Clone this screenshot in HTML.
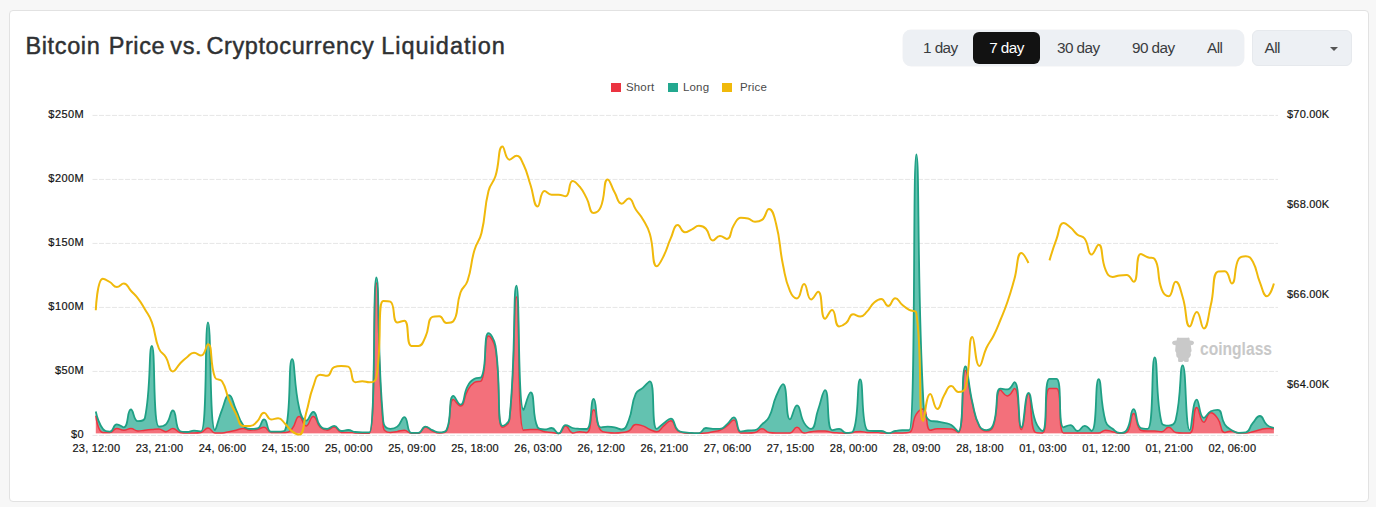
<!DOCTYPE html>
<html>
<head>
<meta charset="utf-8">
<style>
html,body{margin:0;padding:0;}
body{width:1376px;height:507px;background:#f7f7f7;position:relative;overflow:hidden;font-family:"Liberation Sans",sans-serif;}
.card{position:absolute;left:9px;top:10px;width:1360px;height:492px;box-sizing:border-box;background:#fff;border:1px solid #e2e2e2;border-radius:4px;}
.title{position:absolute;left:25.3px;top:30.5px;font-size:23.5px;letter-spacing:0.62px;color:#2f3133;white-space:nowrap;line-height:30px;-webkit-text-stroke:0.45px #2f3133;}
.grp{position:absolute;left:903px;top:29.5px;width:340.5px;height:36.8px;box-sizing:border-box;background:#edf0f4;border-radius:8px;box-shadow:0 0 0 0.5px #f1f2f4;}
.btn{position:absolute;top:0;height:36.8px;line-height:36.8px;font-size:15.3px;letter-spacing:-0.55px;color:#3a3c40;white-space:nowrap;}
.btn.on{background:#121212;color:#fff;border-radius:6px;top:2.5px;height:31.5px;line-height:31.5px;text-align:center;}
.sel{position:absolute;left:1252px;top:30px;width:100px;height:35.5px;box-sizing:border-box;background:#edf0f4;border-radius:6px;border:1px solid #e6e9ed;}
.sel span{position:absolute;left:11.5px;top:-1px;line-height:35px;font-size:15.3px;letter-spacing:-0.55px;color:#3a3c40;}
.caret{position:absolute;left:1329.5px;top:46.5px;width:0;height:0;border-left:4px solid transparent;border-right:4px solid transparent;border-top:4px solid #555;}
.lg{position:absolute;top:82.7px;width:10px;height:9.6px;}
.lt{position:absolute;top:79.2px;font-size:11.5px;letter-spacing:0.15px;line-height:16px;color:#4a4a4a;white-space:nowrap;}
.yl{position:absolute;font-size:11px;letter-spacing:0.4px;line-height:14px;color:#141414;-webkit-text-stroke:0.2px #141414;white-space:nowrap;}
.yl.l{right:1292px;text-align:right;}
.yl.r{left:1287px;letter-spacing:0.2px;}
.xl{position:absolute;top:441px;font-size:11px;letter-spacing:0.2px;line-height:14px;color:#141414;-webkit-text-stroke:0.2px #141414;white-space:nowrap;transform:translateX(-50%);}
.chart{position:absolute;left:0;top:0;}
</style>
</head>
<body>
<div class="card"></div>
<div class="title"><span style="position:relative;left:0.2px">Bitcoin</span> <span style="position:relative;left:1.3px">Price</span> <span style="position:relative;left:-0.8px">vs.</span> <span style="position:relative;left:-3.8px">Cryptocurrency</span> <span style="position:relative;left:-4.2px;letter-spacing:1.0px">Liquidation</span></div>
<div class="grp">
  <div class="btn" style="left:20px">1 day</div>
  <div class="btn on" style="left:70px;width:67px">7 day</div>
  <div class="btn" style="left:154px">30 day</div>
  <div class="btn" style="left:229px">90 day</div>
  <div class="btn" style="left:304px">All</div>
</div>
<div class="sel"><span>All</span></div>
<div class="caret"></div>

<div class="lg" style="left:611px;background:#eb3441"></div><div class="lt" style="left:626px">Short</div>
<div class="lg" style="left:668px;background:#23a88f"></div><div class="lt" style="left:683px">Long</div>
<div class="lg" style="left:722px;background:#f0b90b"></div><div class="lt" style="left:740px">Price</div>

<div class="yl l" style="top:107px">$250M</div>
<div class="yl l" style="top:171px">$200M</div>
<div class="yl l" style="top:235px">$150M</div>
<div class="yl l" style="top:299px">$100M</div>
<div class="yl l" style="top:363px">$50M</div>
<div class="yl l" style="top:427px">$0</div>

<div class="yl r" style="top:107px">$70.00K</div>
<div class="yl r" style="top:197px">$68.00K</div>
<div class="yl r" style="top:287px">$66.00K</div>
<div class="yl r" style="top:377px">$64.00K</div>

<div class="xl" style="left:96.4px">23, 12:00</div>
<div class="xl" style="left:159.5px">23, 21:00</div>
<div class="xl" style="left:222.6px">24, 06:00</div>
<div class="xl" style="left:285.7px">24, 15:00</div>
<div class="xl" style="left:348.9px">25, 00:00</div>
<div class="xl" style="left:412.0px">25, 09:00</div>
<div class="xl" style="left:475.1px">25, 18:00</div>
<div class="xl" style="left:538.2px">26, 03:00</div>
<div class="xl" style="left:601.3px">26, 12:00</div>
<div class="xl" style="left:664.4px">26, 21:00</div>
<div class="xl" style="left:727.5px">27, 06:00</div>
<div class="xl" style="left:790.6px">27, 15:00</div>
<div class="xl" style="left:853.7px">28, 00:00</div>
<div class="xl" style="left:916.8px">28, 09:00</div>
<div class="xl" style="left:980.0px">28, 18:00</div>
<div class="xl" style="left:1043.1px">01, 03:00</div>
<div class="xl" style="left:1106.2px">01, 12:00</div>
<div class="xl" style="left:1169.3px">01, 21:00</div>
<div class="xl" style="left:1232.4px">02, 06:00</div>

<svg style="position:absolute;left:1168px;top:334px" width="30" height="30" viewBox="0 0 30 30"><path d="M9 4.2Q9.5 3 11 3.8L19.5 3.8Q21 3 21.5 4.2L21.8 6.5Q25.6 6.3 26 8.6Q26 11 22.8 11.3L23.6 16.8Q23.5 18 22.6 18.5Q23.6 21 22 23Q21.2 23.9 20.7 24L20.7 27Q20.5 28 19.5 28L17 28Q16 28 15.6 26.6Q15.2 28 14 28L11.2 28Q10.1 28 10.1 27L10.1 24Q8.2 23.4 8.2 21Q8.3 19.2 8.1 18.4Q7.1 17.6 7.2 16.4L7.6 11.3Q4 11 4.1 8.6Q4.4 6.4 8.6 6.5Z" fill="#c9c9c9"/></svg>
<svg style="position:absolute;left:0;top:0" width="1376" height="507"><text x="1200" y="355.2" font-family="Liberation Sans" font-weight="bold" font-size="19.2" fill="#c8c8c8" textLength="72" lengthAdjust="spacingAndGlyphs">coinglass</text></svg>

<svg class="chart" width="1376" height="507" viewBox="0 0 1376 507">
<defs><clipPath id="pc"><rect x="80" y="100" width="1210" height="333.6"/></clipPath></defs>
<line x1="92.5" x2="1278" y1="115.4" y2="115.4" stroke="#e6e6e6" stroke-width="1" stroke-dasharray="5 1.5"/>
<line x1="92.5" x2="1278" y1="179.4" y2="179.4" stroke="#e6e6e6" stroke-width="1" stroke-dasharray="5 1.5"/>
<line x1="92.5" x2="1278" y1="243.4" y2="243.4" stroke="#e6e6e6" stroke-width="1" stroke-dasharray="5 1.5"/>
<line x1="92.5" x2="1278" y1="307.4" y2="307.4" stroke="#e6e6e6" stroke-width="1" stroke-dasharray="5 1.5"/>
<line x1="92.5" x2="1278" y1="371.4" y2="371.4" stroke="#e6e6e6" stroke-width="1" stroke-dasharray="5 1.5"/>
<line x1="92.5" x2="1278" y1="435.4" y2="435.4" stroke="#e6e6e6" stroke-width="1" stroke-dasharray="5 1.5"/>
<g clip-path="url(#pc)">
<path d="M95.8 415.6C95.8 415.6 97.8 432.4 102.8 432.4C104.8 432.4 106.6 432.4 109.8 432.4C113.6 432.4 113.1 428.5 116.8 428.5C120.2 428.5 120.3 430.2 123.8 430.2C127.4 430.2 127.4 428.5 130.9 428.5C134.4 428.5 134.3 431 137.9 431C141.3 431 141.4 430.6 144.9 430.2C148.4 429.8 148.4 429.8 151.9 429.5C155.4 429.2 155.5 429 158.9 429C162.5 429 162.5 431.7 165.9 431.7C169.5 431.7 169.5 428.5 172.9 428.5C176.5 428.5 176.2 431.8 179.9 432.4C183.2 432.9 183.5 432.9 187 432.9C190.5 432.9 190.5 432.9 194 432.9C197.5 432.9 197.8 432.9 201 432.4C204.8 431.8 204.6 428 208 428C211.6 428 211.2 432.9 215 432.9C218.2 432.9 218.5 432.9 222 432.9C225.6 432.9 225.5 432.4 229 431.7C232.6 431 232.6 431 236.1 430.2C239.6 429.4 239.6 428.5 243.1 428.5C246.6 428.5 246.5 430.2 250.1 430.2C253.5 430.2 253.7 430.2 257.1 429.5C260.7 428.8 260.9 427.3 264.1 427.3C267.9 427.3 267.2 432.4 271.1 432.4C274.2 432.4 274.6 432.4 278.1 432.4C281.6 432.4 281.8 432.4 285.1 432.4C288.8 432.4 289.7 431.6 292.1 428.8C296.7 423.6 295.3 416.4 299.2 416.4C302.3 416.4 302.7 425.9 306.2 425.9C309.7 425.9 309.8 416.4 313.2 416.4C316.9 416.4 315.8 422.9 320.2 427.3C322.8 429.8 323.7 430.2 327.2 430.2C330.7 430.2 331 427 334.2 427C338 427 337.3 432.4 341.2 432.4C344.3 432.4 344.7 432.4 348.2 432.4C351.8 432.4 351.8 432.7 355.3 432.9C358.8 433.1 358.8 433.2 362.3 433.2C365.8 433.2 369 433.2 369.3 433.2C376 433.2 372.7 283 376.3 283C379.7 283 376.7 356.8 383.3 427.3C383.7 431.5 386.5 432.4 390.3 432.4C393.5 432.4 393.8 431.9 397.3 431.4C400.9 430.8 401 430.2 404.4 430.2C408 430.2 407.7 433.2 411.4 433.2C414.7 433.2 415.4 433.2 418.4 433.2C422.4 433.2 421.6 427 425.4 427C428.6 427 428.7 429.4 432.4 431C435.7 432.4 435.9 432.9 439.4 432.9C442.9 432.9 445.1 432.9 446.4 431C452.1 422.6 448 399.6 453.4 399.6C455 399.6 457.9 406.1 460.5 406.1C464.9 406.1 463.2 398 467.5 390.8C470.2 386.1 470.3 385.1 474.5 382.4C477.3 380.6 480.5 382.4 481.5 380.6C487.5 369.4 483.2 336.1 488.5 336.1C490.2 336.1 494.4 341.8 495.5 349C501.4 387.4 496.3 427.3 502.5 427.3C503.3 427.3 509 424.9 509.5 420C516 359.8 513.2 297 516.5 297C520.2 297 516.9 430.2 523.6 430.2C523.9 430.2 527.1 429.5 530.6 429.5C534.1 429.5 534.2 429.5 537.6 429.5C541.2 429.5 541 431 544.6 431.7C548 432.4 548.1 432 551.6 432.4C555.1 432.8 555.8 433.4 558.6 433.4C562.8 433.4 562.1 425.9 565.6 425.9C569.1 425.9 568.6 432.9 572.6 432.9C575.6 432.9 576.1 431.7 579.7 431.7C583.2 431.7 585.1 432.4 586.7 432.4C592.1 432.4 590 409.8 593.7 409.8C597 409.8 595.5 423.7 600.7 430.2C602.5 432.4 604.1 431.9 607.7 432.4C611.1 432.9 611.2 432.9 614.7 432.9C618.2 432.9 618.3 432.9 621.7 432.4C625.3 431.9 625.8 432.4 628.8 431C632.8 429.1 631.7 424.4 635.8 424.4C638.8 424.4 639.4 424.7 642.8 425.9C646.4 427.2 646.2 428 649.8 429.5C653.2 430.9 653.7 431.7 656.8 431.7C660.7 431.7 660.2 428.6 663.8 425.8C667.2 423.1 667.9 420.7 670.8 420.7C675 420.7 673.4 427.7 677.8 431C680.4 432.9 681.3 432.6 684.9 432.9C688.3 433.2 688.4 433.2 691.9 433.2C695.4 433.2 695.4 433.2 698.9 433.2C702.4 433.2 702.4 433.2 705.9 432.9C709.4 432.6 709.4 432.4 712.9 431.7C716.4 431 716.6 431.6 719.9 430.2C723.7 428.7 723.6 428.3 726.9 425.9C730.6 423.2 731.2 420 733.9 420C738.3 420 736.2 432.9 740.9 432.9C743.2 432.9 744.5 432.9 748 432.9C751.5 432.9 751.7 432.9 755 432.4C758.7 431.8 758.5 428.8 762 428.8C765.5 428.8 765.3 431.8 769 432.4C772.3 432.9 772.5 432.9 776 432.9C779.5 432.9 779.5 432.9 783 432.9C786.5 432.9 787 432.9 790 432.9C794 432.9 793.5 427.3 797 427.3C800.6 427.3 800.2 432.9 804.1 432.9C807.2 432.9 807.6 432.2 811.1 431.7C814.6 431.2 814.6 431 818.1 431C821.6 431 821.6 431 825.1 431C828.6 431 828.6 431.9 832.1 432.4C835.6 432.9 835.6 432.7 839.1 432.9C842.6 433.1 842.6 433.2 846.1 433.2C849.7 433.2 849.7 432.8 853.1 432.4C856.7 431.9 856.7 431.4 860.2 431.4C863.7 431.4 863.7 432.4 867.2 432.4C870.7 432.4 870.7 432.4 874.2 432.4C877.7 432.4 877.7 432.7 881.2 432.9C884.7 433.1 884.7 433.2 888.2 433.2C891.7 433.2 891.7 432.9 895.2 432.9C898.7 432.9 898.7 432.9 902.2 432.9C905.7 432.9 907.4 432.9 909.2 432.4C914.4 431 911.4 422.3 916.3 414.2C918.4 410.6 921.3 409 923.3 409C928.3 409 925 430.2 930.3 430.2C932 430.2 933.8 428.8 937.3 428.8C940.8 428.8 940.8 428.8 944.3 428.8C947.8 428.8 948 428.8 951.3 429C955 429.2 957.6 432.4 958.3 432.4C964.6 432.4 960.8 370.5 965.4 370.5C967.8 370.5 968.2 387.4 972.4 404C975.2 415.5 974.2 416.6 979.4 426.6C981.2 430.1 983 431 986.4 431C990 431 992.1 429.8 993.4 425.9C999.1 409.4 994.8 390.1 1000.4 390.1C1001.8 390.1 1004.1 395.9 1007.4 395.9C1011.1 395.9 1013.1 388.6 1014.4 388.6C1020.1 388.6 1017.7 429.5 1021.4 429.5C1024.7 429.5 1025.1 393.7 1028.5 393.7C1032.1 393.7 1029.5 429.6 1035.5 432.4C1036.5 432.9 1041.5 432.9 1042.5 432.9C1048.5 432.9 1043.4 388.6 1049.5 388.6C1050.4 388.6 1055.6 388.6 1056.5 388.6C1062.6 388.6 1057.5 432.9 1063.5 432.9C1064.5 432.9 1067 432.9 1070.5 432.9C1074 432.9 1074 432.9 1077.5 432.9C1081.1 432.9 1081.1 432.9 1084.6 432.9C1088.1 432.9 1088.1 432.9 1091.6 432.9C1095.1 432.9 1095.2 432.9 1098.6 432.9C1102.2 432.9 1102 430.2 1105.6 430.2C1109 430.2 1109.1 430.9 1112.6 431.7C1116.1 432.4 1116.1 433.2 1119.6 433.2C1123.1 433.2 1124.8 433.2 1126.6 432.4C1131.8 430.1 1130 413.4 1133.7 413.4C1137 413.4 1135.6 428.1 1140.7 430.2C1142.6 431 1144.2 431 1147.7 431C1151.2 431 1151.2 431 1154.7 431C1158.2 431 1158.5 431.7 1161.7 431.7C1165.5 431.7 1165.3 427.3 1168.7 427.3C1172.3 427.3 1171.9 431.8 1175.7 432.4C1178.9 432.9 1179.2 432.9 1182.7 432.9C1186.2 432.9 1188.3 432.9 1189.8 432.9C1195.3 432.9 1192.4 407.6 1196.8 407.6C1199.4 407.6 1199.7 422.2 1203.8 422.2C1206.7 422.2 1206.8 412.7 1210.8 412.7C1213.9 412.7 1215.2 414.9 1217.8 418.6C1222.2 424.8 1220 432.4 1224.8 432.4C1227 432.4 1228.4 431 1231.8 431C1235.4 431 1235.3 433 1238.8 433C1242.3 433 1242.4 433 1245.8 433C1249.4 433 1249.4 432.6 1252.9 431.8C1256.4 431 1256.3 430.7 1259.9 429.8C1263.3 429 1263.3 428.4 1266.9 428.4C1270.4 428.4 1273.9 428.8 1273.9 428.8L1273.9 433.8L95.8 433.8Z" fill="#f3707b"/>
</g>
<path d="M95.8 411.5C95.8 411.5 97.8 421.7 102.8 428.8C104.8 431.7 106.8 431.7 109.8 431.7C113.8 431.7 112.8 424.4 116.8 424.4C119.8 424.4 121.9 427.3 123.8 427.3C128.9 427.3 126.8 409.5 130.9 409.5C133.8 409.5 133.4 421.2 137.9 421.2C140.4 421.2 144.2 421.2 144.9 418C151.2 388 148.6 346 151.9 346C155.6 346 152.5 426.6 158.9 426.6C159.5 426.6 163.7 426.6 165.9 424.4C170.7 419.7 170 410.5 172.9 410.5C177 410.5 174.7 427.9 179.9 431C181.7 432 183.5 432 187 432C190.5 432 190.4 430.7 194 430.7C197.5 430.7 200.6 431.4 201 431.4C207.6 431.4 204.5 322.4 208 322.4C211.5 322.4 209.2 430.2 215 430.2C216.2 430.2 218 419.8 222 409.8C225 402.3 225.5 395.2 229 395.2C232.5 395.2 232.6 402.5 236.1 409.8C239.6 417.4 238.3 418.6 243.1 425.1C245.3 428.1 246.4 428.8 250.1 428.8C253.4 428.8 254.4 428.8 257.1 428.5C261.5 428 261 419.3 264.1 419.3C268 419.3 266.4 431.7 271.1 431.7C273.4 431.7 274.7 431.7 278.1 431.7C281.7 431.7 284.5 431.7 285.1 430.2C291.5 415.3 288 359.2 292.1 359.2C295 359.2 293.7 384.4 299.2 408.3C300.7 415.2 302.2 420.7 306.2 420.7C309.3 420.7 310.3 412 313.2 412C317.3 412 315.5 420.3 320.2 425.9C322.5 428.7 323.7 428.8 327.2 428.8C330.7 428.8 331 425.9 334.2 425.9C338 425.9 337.4 431 341.2 431C344.4 431 344.8 430 348.2 430C351.8 430 351.7 431.6 355.3 432C358.7 432.4 358.8 432.4 362.3 432.4C365.8 432.4 369 432.4 369.3 432.4C376 432.4 372.7 277.5 376.3 277.5C379.7 277.5 376.8 350.8 383.3 421.5C383.8 426.5 386.3 428.8 390.3 428.8C393.3 428.8 394.6 428.8 397.3 426.6C401.7 423.1 401.5 417.1 404.4 417.1C408.5 417.1 406.4 432.9 411.4 432.9C413.4 432.9 415.4 432.9 418.4 432.9C422.4 432.9 421.6 426.6 425.4 426.6C428.6 426.6 428.8 428.7 432.4 430.2C435.8 431.6 435.9 432.4 439.4 432.4C442.9 432.4 445.2 432.4 446.4 430.2C452.2 419.7 448.1 395.9 453.4 395.9C455.1 395.9 457.9 404.7 460.5 404.7C464.9 404.7 462.9 394.9 467.5 386.4C469.9 381.9 470.4 381.4 474.5 378.8C477.4 377 480.5 378.8 481.5 377C487.5 365.9 483.2 333.1 488.5 333.1C490.2 333.1 494.4 338.8 495.5 346C501.4 385.2 496.3 425.9 502.5 425.9C503.3 425.9 509 423.6 509.5 418.6C516.1 353.4 512.9 285.6 516.5 285.6C519.9 285.6 517.5 409.8 523.6 409.8C524.5 409.8 528.2 392.3 530.6 392.3C535.2 392.3 531.8 416.6 537.6 427.3C538.8 429.5 541.1 429.5 544.6 429.5C548.1 429.5 548.5 428 551.6 428C555.5 428 555.5 433.4 558.6 433.4C562.5 433.4 561.5 425.1 565.6 425.1C568.5 425.1 569 427.1 572.6 428C576 428.8 576.1 428.6 579.7 428.8C583.2 429 585.4 429 586.7 429C592.4 429 590.1 398.8 593.7 398.8C597.1 398.8 595 427.3 600.7 427.3C602.1 427.3 604.2 426.6 607.7 426.6C611.2 426.6 611.3 426.6 614.7 427.3C618.3 428 619 429.5 621.7 429.5C626.1 429.5 626.6 425.4 628.8 420C633.6 407.5 630.5 405.7 635.8 393.7C637.5 389.7 639.4 390.9 642.8 387.9C646.4 384.7 648.6 381.3 649.8 381.3C655.6 381.3 650.9 428.8 656.8 428.8C657.9 428.8 660.2 425.9 663.8 423.3C667.2 420.8 668.1 418.6 670.8 418.6C675.1 418.6 673.3 426.1 677.8 430.2C680.3 432.4 681.3 431.9 684.9 432.4C688.3 432.9 688.4 432.7 691.9 432.9C695.4 433.1 695.7 433.2 698.9 433.2C702.8 433.2 702 428 705.9 428C709 428 709.4 428.8 712.9 428.8C716.4 428.8 716.7 428.8 719.9 428.8C723.7 428.8 723.7 427 726.9 424.4C730.7 421.3 731.2 417.4 733.9 417.4C738.3 417.4 736.1 431.7 740.9 431.7C743.1 431.7 744.4 430.8 748 430.5C751.4 430.2 751.9 430.5 755 430.2C758.9 429.8 758.7 427.5 762 424.4C765.7 421 766.8 421.5 769 417.1C773.8 407.7 771.8 406.6 776 396.7C778.8 390.1 781 384.2 783 384.2C788 384.2 785.2 419.3 790 419.3C792.2 419.3 793.9 405.4 797 405.4C800.9 405.4 799.3 415 804.1 422.9C806.4 426.7 808.9 428.8 811.1 428.8C815.9 428.8 814.6 419.3 818.1 409.8C821.6 400 822.7 390.1 825.1 390.1C829.7 390.1 826.1 430.2 832.1 430.2C833.2 430.2 835.8 428.8 839.1 428.8C842.9 428.8 842.4 432.9 846.1 432.9C849.4 432.9 852.3 432.9 853.1 431.3C859.3 419.7 856.6 379.4 860.2 379.4C863.6 379.4 861 424.4 867.2 430.2C868 431 870.7 431 874.2 431C877.7 431 877.8 431 881.2 431C884.8 431 884.7 433.2 888.2 433.2C891.7 433.2 891.6 431.8 895.2 431C898.7 430.3 898.7 430.2 902.2 430.2C905.7 430.2 909.1 430.2 909.2 430.2C916.1 430.2 912.6 154.5 916.3 154.5C919.6 154.5 916.8 277.8 923.3 400C923.8 410.9 925 418.2 930.3 420.7C932 421.5 933.8 421 937.3 421.5C940.8 422.1 940.9 422 944.3 422.9C947.9 423.8 948.3 423.2 951.3 425.1C955.3 427.6 957.4 431.7 958.3 431.7C964.5 431.7 960.9 366.5 965.4 366.5C967.9 366.5 968.2 384.7 972.4 402.5C975.2 414.4 974.1 415.5 979.4 425.9C981.1 429.4 983.1 430.2 986.4 430.2C990.1 430.2 992 428.6 993.4 424.4C999 407.8 994.5 388.6 1000.4 388.6C1001.5 388.6 1004.5 389.4 1007.4 389.4C1011.6 389.4 1013.2 382.1 1014.4 382.1C1020.2 382.1 1017.5 427.3 1021.4 427.3C1024.5 427.3 1024.6 393 1028.5 393C1031.7 393 1030.5 408 1035.5 421.5C1037.5 427 1041.2 431 1042.5 431C1048.2 431 1043.3 378.8 1049.5 378.8C1050.3 378.8 1055.6 378.8 1056.5 378.8C1062.6 378.8 1057.4 427.3 1063.5 427.3C1064.4 427.3 1067.4 425.1 1070.5 425.1C1074.4 425.1 1073.9 431 1077.5 431C1081 431 1081.1 425.9 1084.6 425.9C1088.1 425.9 1090.6 431 1091.6 431C1097.6 431 1094.7 379.1 1098.6 379.1C1101.7 379.1 1099.9 401.4 1105.6 421.5C1106.9 426.2 1108.7 425.6 1112.6 428.8C1115.7 431.3 1116 432.9 1119.6 432.9C1123 432.9 1124.9 432.9 1126.6 430.2C1131.9 422.2 1130 409.1 1133.7 409.1C1137 409.1 1135.5 425.7 1140.7 428C1142.5 428.8 1147 428.8 1147.7 428.8C1154.1 428.8 1151 357.4 1154.7 357.4C1158 357.4 1155.4 399.2 1161.7 422.9C1162.4 425.6 1165.5 425.6 1168.7 425.6C1172.5 425.6 1174.7 424.2 1175.7 420C1181.8 394.1 1179.5 365.3 1182.7 365.3C1186.5 365.3 1185 430.2 1189.8 430.2C1192 430.2 1192.4 399.6 1196.8 399.6C1199.4 399.6 1199.1 417.8 1203.8 417.8C1206.1 417.8 1206.8 413.3 1210.8 411.3C1213.8 409.8 1215.6 409.8 1217.8 409.8C1222.7 409.8 1220.3 417.9 1224.8 424.4C1227.3 428.1 1228 427.9 1231.8 430.2C1235 432.1 1235.2 432.8 1238.8 432.8C1242.2 432.8 1243.2 432.8 1245.8 432.4C1250.2 431.7 1249 427.4 1252.9 422.9C1256 419.2 1256.6 416 1259.9 416C1263.6 416 1262.7 421.4 1266.9 424.9C1269.7 427.3 1273.9 427.8 1273.9 427.8L1273.9 428.8C1273.9 428.8 1270.4 428.4 1266.9 428.4C1263.3 428.4 1263.3 429 1259.9 429.8C1256.3 430.7 1256.4 431 1252.9 431.8C1249.4 432.6 1249.4 433 1245.8 433C1242.4 433 1242.3 433 1238.8 433C1235.3 433 1235.4 431 1231.8 431C1228.4 431 1227 432.4 1224.8 432.4C1220 432.4 1222.2 424.8 1217.8 418.6C1215.2 414.9 1213.9 412.7 1210.8 412.7C1206.8 412.7 1206.7 422.2 1203.8 422.2C1199.7 422.2 1199.4 407.6 1196.8 407.6C1192.4 407.6 1195.3 432.9 1189.8 432.9C1188.3 432.9 1186.2 432.9 1182.7 432.9C1179.2 432.9 1178.9 432.9 1175.7 432.4C1171.9 431.8 1172.3 427.3 1168.7 427.3C1165.3 427.3 1165.5 431.7 1161.7 431.7C1158.5 431.7 1158.2 431 1154.7 431C1151.2 431 1151.2 431 1147.7 431C1144.2 431 1142.6 431 1140.7 430.2C1135.6 428.1 1137 413.4 1133.7 413.4C1130 413.4 1131.8 430.1 1126.6 432.4C1124.8 433.2 1123.1 433.2 1119.6 433.2C1116.1 433.2 1116.1 432.4 1112.6 431.7C1109.1 430.9 1109 430.2 1105.6 430.2C1102 430.2 1102.2 432.9 1098.6 432.9C1095.2 432.9 1095.1 432.9 1091.6 432.9C1088.1 432.9 1088.1 432.9 1084.6 432.9C1081.1 432.9 1081.1 432.9 1077.5 432.9C1074 432.9 1074 432.9 1070.5 432.9C1067 432.9 1064.5 432.9 1063.5 432.9C1057.5 432.9 1062.6 388.6 1056.5 388.6C1055.6 388.6 1050.4 388.6 1049.5 388.6C1043.4 388.6 1048.5 432.9 1042.5 432.9C1041.5 432.9 1036.5 432.9 1035.5 432.4C1029.5 429.6 1032.1 393.7 1028.5 393.7C1025.1 393.7 1024.7 429.5 1021.4 429.5C1017.7 429.5 1020.1 388.6 1014.4 388.6C1013.1 388.6 1011.1 395.9 1007.4 395.9C1004.1 395.9 1001.8 390.1 1000.4 390.1C994.8 390.1 999.1 409.4 993.4 425.9C992.1 429.8 990 431 986.4 431C983 431 981.2 430.1 979.4 426.6C974.2 416.6 975.2 415.5 972.4 404C968.2 387.4 967.8 370.5 965.4 370.5C960.8 370.5 964.6 432.4 958.3 432.4C957.6 432.4 955 429.2 951.3 429C948 428.8 947.8 428.8 944.3 428.8C940.8 428.8 940.8 428.8 937.3 428.8C933.8 428.8 932 430.2 930.3 430.2C925 430.2 928.3 409 923.3 409C921.3 409 918.4 410.6 916.3 414.2C911.4 422.3 914.4 431 909.2 432.4C907.4 432.9 905.7 432.9 902.2 432.9C898.7 432.9 898.7 432.9 895.2 432.9C891.7 432.9 891.7 433.2 888.2 433.2C884.7 433.2 884.7 433.1 881.2 432.9C877.7 432.7 877.7 432.4 874.2 432.4C870.7 432.4 870.7 432.4 867.2 432.4C863.7 432.4 863.7 431.4 860.2 431.4C856.7 431.4 856.7 431.9 853.1 432.4C849.7 432.8 849.7 433.2 846.1 433.2C842.6 433.2 842.6 433.1 839.1 432.9C835.6 432.7 835.6 432.9 832.1 432.4C828.6 431.9 828.6 431 825.1 431C821.6 431 821.6 431 818.1 431C814.6 431 814.6 431.2 811.1 431.7C807.6 432.2 807.2 432.9 804.1 432.9C800.2 432.9 800.6 427.3 797 427.3C793.5 427.3 794 432.9 790 432.9C787 432.9 786.5 432.9 783 432.9C779.5 432.9 779.5 432.9 776 432.9C772.5 432.9 772.3 432.9 769 432.4C765.3 431.8 765.5 428.8 762 428.8C758.5 428.8 758.7 431.8 755 432.4C751.7 432.9 751.5 432.9 748 432.9C744.5 432.9 743.2 432.9 740.9 432.9C736.2 432.9 738.3 420 733.9 420C731.2 420 730.6 423.2 726.9 425.9C723.6 428.3 723.7 428.7 719.9 430.2C716.6 431.6 716.4 431 712.9 431.7C709.4 432.4 709.4 432.6 705.9 432.9C702.4 433.2 702.4 433.2 698.9 433.2C695.4 433.2 695.4 433.2 691.9 433.2C688.4 433.2 688.3 433.2 684.9 432.9C681.3 432.6 680.4 432.9 677.8 431C673.4 427.7 675 420.7 670.8 420.7C667.9 420.7 667.2 423.1 663.8 425.8C660.2 428.6 660.7 431.7 656.8 431.7C653.7 431.7 653.2 430.9 649.8 429.5C646.2 428 646.4 427.2 642.8 425.9C639.4 424.7 638.8 424.4 635.8 424.4C631.7 424.4 632.8 429.1 628.8 431C625.8 432.4 625.3 431.9 621.7 432.4C618.3 432.9 618.2 432.9 614.7 432.9C611.2 432.9 611.1 432.9 607.7 432.4C604.1 431.9 602.5 432.4 600.7 430.2C595.5 423.7 597 409.8 593.7 409.8C590 409.8 592.1 432.4 586.7 432.4C585.1 432.4 583.2 431.7 579.7 431.7C576.1 431.7 575.6 432.9 572.6 432.9C568.6 432.9 569.1 425.9 565.6 425.9C562.1 425.9 562.8 433.4 558.6 433.4C555.8 433.4 555.1 432.8 551.6 432.4C548.1 432 548 432.4 544.6 431.7C541 431 541.2 429.5 537.6 429.5C534.2 429.5 534.1 429.5 530.6 429.5C527.1 429.5 523.9 430.2 523.6 430.2C516.9 430.2 520.2 297 516.5 297C513.2 297 516 359.8 509.5 420C509 424.9 503.3 427.3 502.5 427.3C496.3 427.3 501.4 387.4 495.5 349C494.4 341.8 490.2 336.1 488.5 336.1C483.2 336.1 487.5 369.4 481.5 380.6C480.5 382.4 477.3 380.6 474.5 382.4C470.3 385.1 470.2 386.1 467.5 390.8C463.2 398 464.9 406.1 460.5 406.1C457.9 406.1 455 399.6 453.4 399.6C448 399.6 452.1 422.6 446.4 431C445.1 432.9 442.9 432.9 439.4 432.9C435.9 432.9 435.7 432.4 432.4 431C428.7 429.4 428.6 427 425.4 427C421.6 427 422.4 433.2 418.4 433.2C415.4 433.2 414.7 433.2 411.4 433.2C407.7 433.2 408 430.2 404.4 430.2C401 430.2 400.9 430.8 397.3 431.4C393.8 431.9 393.5 432.4 390.3 432.4C386.5 432.4 383.7 431.5 383.3 427.3C376.7 356.8 379.7 283 376.3 283C372.7 283 376 433.2 369.3 433.2C369 433.2 365.8 433.2 362.3 433.2C358.8 433.2 358.8 433.1 355.3 432.9C351.8 432.7 351.8 432.4 348.2 432.4C344.7 432.4 344.3 432.4 341.2 432.4C337.3 432.4 338 427 334.2 427C331 427 330.7 430.2 327.2 430.2C323.7 430.2 322.8 429.8 320.2 427.3C315.8 422.9 316.9 416.4 313.2 416.4C309.8 416.4 309.7 425.9 306.2 425.9C302.7 425.9 302.3 416.4 299.2 416.4C295.3 416.4 296.7 423.6 292.1 428.8C289.7 431.6 288.8 432.4 285.1 432.4C281.8 432.4 281.6 432.4 278.1 432.4C274.6 432.4 274.2 432.4 271.1 432.4C267.2 432.4 267.9 427.3 264.1 427.3C260.9 427.3 260.7 428.8 257.1 429.5C253.7 430.2 253.5 430.2 250.1 430.2C246.5 430.2 246.6 428.5 243.1 428.5C239.6 428.5 239.6 429.4 236.1 430.2C232.6 431 232.6 431 229 431.7C225.5 432.4 225.6 432.9 222 432.9C218.5 432.9 218.2 432.9 215 432.9C211.2 432.9 211.6 428 208 428C204.6 428 204.8 431.8 201 432.4C197.8 432.9 197.5 432.9 194 432.9C190.5 432.9 190.5 432.9 187 432.9C183.5 432.9 183.2 432.9 179.9 432.4C176.2 431.8 176.5 428.5 172.9 428.5C169.5 428.5 169.5 431.7 165.9 431.7C162.5 431.7 162.5 429 158.9 429C155.5 429 155.4 429.2 151.9 429.5C148.4 429.8 148.4 429.8 144.9 430.2C141.4 430.6 141.3 431 137.9 431C134.3 431 134.4 428.5 130.9 428.5C127.4 428.5 127.4 430.2 123.8 430.2C120.3 430.2 120.2 428.5 116.8 428.5C113.1 428.5 113.6 432.4 109.8 432.4C106.6 432.4 104.8 432.4 102.8 432.4C97.8 432.4 95.8 415.6 95.8 415.6Z" fill="#63c2b0"/>
<path d="M95.8 415.6C95.8 415.6 97.8 432.4 102.8 432.4C104.8 432.4 106.6 432.4 109.8 432.4C113.6 432.4 113.1 428.5 116.8 428.5C120.2 428.5 120.3 430.2 123.8 430.2C127.4 430.2 127.4 428.5 130.9 428.5C134.4 428.5 134.3 431 137.9 431C141.3 431 141.4 430.6 144.9 430.2C148.4 429.8 148.4 429.8 151.9 429.5C155.4 429.2 155.5 429 158.9 429C162.5 429 162.5 431.7 165.9 431.7C169.5 431.7 169.5 428.5 172.9 428.5C176.5 428.5 176.2 431.8 179.9 432.4C183.2 432.9 183.5 432.9 187 432.9C190.5 432.9 190.5 432.9 194 432.9C197.5 432.9 197.8 432.9 201 432.4C204.8 431.8 204.6 428 208 428C211.6 428 211.2 432.9 215 432.9C218.2 432.9 218.5 432.9 222 432.9C225.6 432.9 225.5 432.4 229 431.7C232.6 431 232.6 431 236.1 430.2C239.6 429.4 239.6 428.5 243.1 428.5C246.6 428.5 246.5 430.2 250.1 430.2C253.5 430.2 253.7 430.2 257.1 429.5C260.7 428.8 260.9 427.3 264.1 427.3C267.9 427.3 267.2 432.4 271.1 432.4C274.2 432.4 274.6 432.4 278.1 432.4C281.6 432.4 281.8 432.4 285.1 432.4C288.8 432.4 289.7 431.6 292.1 428.8C296.7 423.6 295.3 416.4 299.2 416.4C302.3 416.4 302.7 425.9 306.2 425.9C309.7 425.9 309.8 416.4 313.2 416.4C316.9 416.4 315.8 422.9 320.2 427.3C322.8 429.8 323.7 430.2 327.2 430.2C330.7 430.2 331 427 334.2 427C338 427 337.3 432.4 341.2 432.4C344.3 432.4 344.7 432.4 348.2 432.4C351.8 432.4 351.8 432.7 355.3 432.9C358.8 433.1 358.8 433.2 362.3 433.2C365.8 433.2 369 433.2 369.3 433.2C376 433.2 372.7 283 376.3 283C379.7 283 376.7 356.8 383.3 427.3C383.7 431.5 386.5 432.4 390.3 432.4C393.5 432.4 393.8 431.9 397.3 431.4C400.9 430.8 401 430.2 404.4 430.2C408 430.2 407.7 433.2 411.4 433.2C414.7 433.2 415.4 433.2 418.4 433.2C422.4 433.2 421.6 427 425.4 427C428.6 427 428.7 429.4 432.4 431C435.7 432.4 435.9 432.9 439.4 432.9C442.9 432.9 445.1 432.9 446.4 431C452.1 422.6 448 399.6 453.4 399.6C455 399.6 457.9 406.1 460.5 406.1C464.9 406.1 463.2 398 467.5 390.8C470.2 386.1 470.3 385.1 474.5 382.4C477.3 380.6 480.5 382.4 481.5 380.6C487.5 369.4 483.2 336.1 488.5 336.1C490.2 336.1 494.4 341.8 495.5 349C501.4 387.4 496.3 427.3 502.5 427.3C503.3 427.3 509 424.9 509.5 420C516 359.8 513.2 297 516.5 297C520.2 297 516.9 430.2 523.6 430.2C523.9 430.2 527.1 429.5 530.6 429.5C534.1 429.5 534.2 429.5 537.6 429.5C541.2 429.5 541 431 544.6 431.7C548 432.4 548.1 432 551.6 432.4C555.1 432.8 555.8 433.4 558.6 433.4C562.8 433.4 562.1 425.9 565.6 425.9C569.1 425.9 568.6 432.9 572.6 432.9C575.6 432.9 576.1 431.7 579.7 431.7C583.2 431.7 585.1 432.4 586.7 432.4C592.1 432.4 590 409.8 593.7 409.8C597 409.8 595.5 423.7 600.7 430.2C602.5 432.4 604.1 431.9 607.7 432.4C611.1 432.9 611.2 432.9 614.7 432.9C618.2 432.9 618.3 432.9 621.7 432.4C625.3 431.9 625.8 432.4 628.8 431C632.8 429.1 631.7 424.4 635.8 424.4C638.8 424.4 639.4 424.7 642.8 425.9C646.4 427.2 646.2 428 649.8 429.5C653.2 430.9 653.7 431.7 656.8 431.7C660.7 431.7 660.2 428.6 663.8 425.8C667.2 423.1 667.9 420.7 670.8 420.7C675 420.7 673.4 427.7 677.8 431C680.4 432.9 681.3 432.6 684.9 432.9C688.3 433.2 688.4 433.2 691.9 433.2C695.4 433.2 695.4 433.2 698.9 433.2C702.4 433.2 702.4 433.2 705.9 432.9C709.4 432.6 709.4 432.4 712.9 431.7C716.4 431 716.6 431.6 719.9 430.2C723.7 428.7 723.6 428.3 726.9 425.9C730.6 423.2 731.2 420 733.9 420C738.3 420 736.2 432.9 740.9 432.9C743.2 432.9 744.5 432.9 748 432.9C751.5 432.9 751.7 432.9 755 432.4C758.7 431.8 758.5 428.8 762 428.8C765.5 428.8 765.3 431.8 769 432.4C772.3 432.9 772.5 432.9 776 432.9C779.5 432.9 779.5 432.9 783 432.9C786.5 432.9 787 432.9 790 432.9C794 432.9 793.5 427.3 797 427.3C800.6 427.3 800.2 432.9 804.1 432.9C807.2 432.9 807.6 432.2 811.1 431.7C814.6 431.2 814.6 431 818.1 431C821.6 431 821.6 431 825.1 431C828.6 431 828.6 431.9 832.1 432.4C835.6 432.9 835.6 432.7 839.1 432.9C842.6 433.1 842.6 433.2 846.1 433.2C849.7 433.2 849.7 432.8 853.1 432.4C856.7 431.9 856.7 431.4 860.2 431.4C863.7 431.4 863.7 432.4 867.2 432.4C870.7 432.4 870.7 432.4 874.2 432.4C877.7 432.4 877.7 432.7 881.2 432.9C884.7 433.1 884.7 433.2 888.2 433.2C891.7 433.2 891.7 432.9 895.2 432.9C898.7 432.9 898.7 432.9 902.2 432.9C905.7 432.9 907.4 432.9 909.2 432.4C914.4 431 911.4 422.3 916.3 414.2C918.4 410.6 921.3 409 923.3 409C928.3 409 925 430.2 930.3 430.2C932 430.2 933.8 428.8 937.3 428.8C940.8 428.8 940.8 428.8 944.3 428.8C947.8 428.8 948 428.8 951.3 429C955 429.2 957.6 432.4 958.3 432.4C964.6 432.4 960.8 370.5 965.4 370.5C967.8 370.5 968.2 387.4 972.4 404C975.2 415.5 974.2 416.6 979.4 426.6C981.2 430.1 983 431 986.4 431C990 431 992.1 429.8 993.4 425.9C999.1 409.4 994.8 390.1 1000.4 390.1C1001.8 390.1 1004.1 395.9 1007.4 395.9C1011.1 395.9 1013.1 388.6 1014.4 388.6C1020.1 388.6 1017.7 429.5 1021.4 429.5C1024.7 429.5 1025.1 393.7 1028.5 393.7C1032.1 393.7 1029.5 429.6 1035.5 432.4C1036.5 432.9 1041.5 432.9 1042.5 432.9C1048.5 432.9 1043.4 388.6 1049.5 388.6C1050.4 388.6 1055.6 388.6 1056.5 388.6C1062.6 388.6 1057.5 432.9 1063.5 432.9C1064.5 432.9 1067 432.9 1070.5 432.9C1074 432.9 1074 432.9 1077.5 432.9C1081.1 432.9 1081.1 432.9 1084.6 432.9C1088.1 432.9 1088.1 432.9 1091.6 432.9C1095.1 432.9 1095.2 432.9 1098.6 432.9C1102.2 432.9 1102 430.2 1105.6 430.2C1109 430.2 1109.1 430.9 1112.6 431.7C1116.1 432.4 1116.1 433.2 1119.6 433.2C1123.1 433.2 1124.8 433.2 1126.6 432.4C1131.8 430.1 1130 413.4 1133.7 413.4C1137 413.4 1135.6 428.1 1140.7 430.2C1142.6 431 1144.2 431 1147.7 431C1151.2 431 1151.2 431 1154.7 431C1158.2 431 1158.5 431.7 1161.7 431.7C1165.5 431.7 1165.3 427.3 1168.7 427.3C1172.3 427.3 1171.9 431.8 1175.7 432.4C1178.9 432.9 1179.2 432.9 1182.7 432.9C1186.2 432.9 1188.3 432.9 1189.8 432.9C1195.3 432.9 1192.4 407.6 1196.8 407.6C1199.4 407.6 1199.7 422.2 1203.8 422.2C1206.7 422.2 1206.8 412.7 1210.8 412.7C1213.9 412.7 1215.2 414.9 1217.8 418.6C1222.2 424.8 1220 432.4 1224.8 432.4C1227 432.4 1228.4 431 1231.8 431C1235.4 431 1235.3 433 1238.8 433C1242.3 433 1242.4 433 1245.8 433C1249.4 433 1249.4 432.6 1252.9 431.8C1256.4 431 1256.3 430.7 1259.9 429.8C1263.3 429 1263.3 428.4 1266.9 428.4C1270.4 428.4 1273.9 428.8 1273.9 428.8" fill="none" stroke="#eb3441" stroke-width="1.5" stroke-linejoin="round"/>
<path d="M95.8 411.5C95.8 411.5 97.8 421.7 102.8 428.8C104.8 431.7 106.8 431.7 109.8 431.7C113.8 431.7 112.8 424.4 116.8 424.4C119.8 424.4 121.9 427.3 123.8 427.3C128.9 427.3 126.8 409.5 130.9 409.5C133.8 409.5 133.4 421.2 137.9 421.2C140.4 421.2 144.2 421.2 144.9 418C151.2 388 148.6 346 151.9 346C155.6 346 152.5 426.6 158.9 426.6C159.5 426.6 163.7 426.6 165.9 424.4C170.7 419.7 170 410.5 172.9 410.5C177 410.5 174.7 427.9 179.9 431C181.7 432 183.5 432 187 432C190.5 432 190.4 430.7 194 430.7C197.5 430.7 200.6 431.4 201 431.4C207.6 431.4 204.5 322.4 208 322.4C211.5 322.4 209.2 430.2 215 430.2C216.2 430.2 218 419.8 222 409.8C225 402.3 225.5 395.2 229 395.2C232.5 395.2 232.6 402.5 236.1 409.8C239.6 417.4 238.3 418.6 243.1 425.1C245.3 428.1 246.4 428.8 250.1 428.8C253.4 428.8 254.4 428.8 257.1 428.5C261.5 428 261 419.3 264.1 419.3C268 419.3 266.4 431.7 271.1 431.7C273.4 431.7 274.7 431.7 278.1 431.7C281.7 431.7 284.5 431.7 285.1 430.2C291.5 415.3 288 359.2 292.1 359.2C295 359.2 293.7 384.4 299.2 408.3C300.7 415.2 302.2 420.7 306.2 420.7C309.3 420.7 310.3 412 313.2 412C317.3 412 315.5 420.3 320.2 425.9C322.5 428.7 323.7 428.8 327.2 428.8C330.7 428.8 331 425.9 334.2 425.9C338 425.9 337.4 431 341.2 431C344.4 431 344.8 430 348.2 430C351.8 430 351.7 431.6 355.3 432C358.7 432.4 358.8 432.4 362.3 432.4C365.8 432.4 369 432.4 369.3 432.4C376 432.4 372.7 277.5 376.3 277.5C379.7 277.5 376.8 350.8 383.3 421.5C383.8 426.5 386.3 428.8 390.3 428.8C393.3 428.8 394.6 428.8 397.3 426.6C401.7 423.1 401.5 417.1 404.4 417.1C408.5 417.1 406.4 432.9 411.4 432.9C413.4 432.9 415.4 432.9 418.4 432.9C422.4 432.9 421.6 426.6 425.4 426.6C428.6 426.6 428.8 428.7 432.4 430.2C435.8 431.6 435.9 432.4 439.4 432.4C442.9 432.4 445.2 432.4 446.4 430.2C452.2 419.7 448.1 395.9 453.4 395.9C455.1 395.9 457.9 404.7 460.5 404.7C464.9 404.7 462.9 394.9 467.5 386.4C469.9 381.9 470.4 381.4 474.5 378.8C477.4 377 480.5 378.8 481.5 377C487.5 365.9 483.2 333.1 488.5 333.1C490.2 333.1 494.4 338.8 495.5 346C501.4 385.2 496.3 425.9 502.5 425.9C503.3 425.9 509 423.6 509.5 418.6C516.1 353.4 512.9 285.6 516.5 285.6C519.9 285.6 517.5 409.8 523.6 409.8C524.5 409.8 528.2 392.3 530.6 392.3C535.2 392.3 531.8 416.6 537.6 427.3C538.8 429.5 541.1 429.5 544.6 429.5C548.1 429.5 548.5 428 551.6 428C555.5 428 555.5 433.4 558.6 433.4C562.5 433.4 561.5 425.1 565.6 425.1C568.5 425.1 569 427.1 572.6 428C576 428.8 576.1 428.6 579.7 428.8C583.2 429 585.4 429 586.7 429C592.4 429 590.1 398.8 593.7 398.8C597.1 398.8 595 427.3 600.7 427.3C602.1 427.3 604.2 426.6 607.7 426.6C611.2 426.6 611.3 426.6 614.7 427.3C618.3 428 619 429.5 621.7 429.5C626.1 429.5 626.6 425.4 628.8 420C633.6 407.5 630.5 405.7 635.8 393.7C637.5 389.7 639.4 390.9 642.8 387.9C646.4 384.7 648.6 381.3 649.8 381.3C655.6 381.3 650.9 428.8 656.8 428.8C657.9 428.8 660.2 425.9 663.8 423.3C667.2 420.8 668.1 418.6 670.8 418.6C675.1 418.6 673.3 426.1 677.8 430.2C680.3 432.4 681.3 431.9 684.9 432.4C688.3 432.9 688.4 432.7 691.9 432.9C695.4 433.1 695.7 433.2 698.9 433.2C702.8 433.2 702 428 705.9 428C709 428 709.4 428.8 712.9 428.8C716.4 428.8 716.7 428.8 719.9 428.8C723.7 428.8 723.7 427 726.9 424.4C730.7 421.3 731.2 417.4 733.9 417.4C738.3 417.4 736.1 431.7 740.9 431.7C743.1 431.7 744.4 430.8 748 430.5C751.4 430.2 751.9 430.5 755 430.2C758.9 429.8 758.7 427.5 762 424.4C765.7 421 766.8 421.5 769 417.1C773.8 407.7 771.8 406.6 776 396.7C778.8 390.1 781 384.2 783 384.2C788 384.2 785.2 419.3 790 419.3C792.2 419.3 793.9 405.4 797 405.4C800.9 405.4 799.3 415 804.1 422.9C806.4 426.7 808.9 428.8 811.1 428.8C815.9 428.8 814.6 419.3 818.1 409.8C821.6 400 822.7 390.1 825.1 390.1C829.7 390.1 826.1 430.2 832.1 430.2C833.2 430.2 835.8 428.8 839.1 428.8C842.9 428.8 842.4 432.9 846.1 432.9C849.4 432.9 852.3 432.9 853.1 431.3C859.3 419.7 856.6 379.4 860.2 379.4C863.6 379.4 861 424.4 867.2 430.2C868 431 870.7 431 874.2 431C877.7 431 877.8 431 881.2 431C884.8 431 884.7 433.2 888.2 433.2C891.7 433.2 891.6 431.8 895.2 431C898.7 430.3 898.7 430.2 902.2 430.2C905.7 430.2 909.1 430.2 909.2 430.2C916.1 430.2 912.6 154.5 916.3 154.5C919.6 154.5 916.8 277.8 923.3 400C923.8 410.9 925 418.2 930.3 420.7C932 421.5 933.8 421 937.3 421.5C940.8 422.1 940.9 422 944.3 422.9C947.9 423.8 948.3 423.2 951.3 425.1C955.3 427.6 957.4 431.7 958.3 431.7C964.5 431.7 960.9 366.5 965.4 366.5C967.9 366.5 968.2 384.7 972.4 402.5C975.2 414.4 974.1 415.5 979.4 425.9C981.1 429.4 983.1 430.2 986.4 430.2C990.1 430.2 992 428.6 993.4 424.4C999 407.8 994.5 388.6 1000.4 388.6C1001.5 388.6 1004.5 389.4 1007.4 389.4C1011.6 389.4 1013.2 382.1 1014.4 382.1C1020.2 382.1 1017.5 427.3 1021.4 427.3C1024.5 427.3 1024.6 393 1028.5 393C1031.7 393 1030.5 408 1035.5 421.5C1037.5 427 1041.2 431 1042.5 431C1048.2 431 1043.3 378.8 1049.5 378.8C1050.3 378.8 1055.6 378.8 1056.5 378.8C1062.6 378.8 1057.4 427.3 1063.5 427.3C1064.4 427.3 1067.4 425.1 1070.5 425.1C1074.4 425.1 1073.9 431 1077.5 431C1081 431 1081.1 425.9 1084.6 425.9C1088.1 425.9 1090.6 431 1091.6 431C1097.6 431 1094.7 379.1 1098.6 379.1C1101.7 379.1 1099.9 401.4 1105.6 421.5C1106.9 426.2 1108.7 425.6 1112.6 428.8C1115.7 431.3 1116 432.9 1119.6 432.9C1123 432.9 1124.9 432.9 1126.6 430.2C1131.9 422.2 1130 409.1 1133.7 409.1C1137 409.1 1135.5 425.7 1140.7 428C1142.5 428.8 1147 428.8 1147.7 428.8C1154.1 428.8 1151 357.4 1154.7 357.4C1158 357.4 1155.4 399.2 1161.7 422.9C1162.4 425.6 1165.5 425.6 1168.7 425.6C1172.5 425.6 1174.7 424.2 1175.7 420C1181.8 394.1 1179.5 365.3 1182.7 365.3C1186.5 365.3 1185 430.2 1189.8 430.2C1192 430.2 1192.4 399.6 1196.8 399.6C1199.4 399.6 1199.1 417.8 1203.8 417.8C1206.1 417.8 1206.8 413.3 1210.8 411.3C1213.8 409.8 1215.6 409.8 1217.8 409.8C1222.7 409.8 1220.3 417.9 1224.8 424.4C1227.3 428.1 1228 427.9 1231.8 430.2C1235 432.1 1235.2 432.8 1238.8 432.8C1242.2 432.8 1243.2 432.8 1245.8 432.4C1250.2 431.7 1249 427.4 1252.9 422.9C1256 419.2 1256.6 416 1259.9 416C1263.6 416 1262.7 421.4 1266.9 424.9C1269.7 427.3 1273.9 427.8 1273.9 427.8" fill="none" stroke="#1fa085" stroke-width="1.8" stroke-linejoin="round"/>
<path d="M95.8 310.3C95.8 310.3 97.2 278.7 102.8 278.7C104.2 278.7 106.5 280 109.8 282C113.5 284.2 113.2 287 116.8 287C120.2 287 120.8 283.5 123.8 283.5C127.8 283.5 127.4 287.1 130.9 290.7C134.4 294.5 134.8 294.2 137.9 298.3C141.8 303.4 141.6 303.6 144.9 309.2C148.6 315.6 149.4 315.3 151.9 322.3C156.4 335 153.9 336.1 158.9 348.5C161 353.6 163 352.5 165.9 357.2C170 363.9 168.7 371.4 172.9 371.4C175.7 371.4 176.3 367.4 179.9 363.7C183.3 360.3 183.2 360.1 187 357.2C190.2 354.7 190.3 352.8 194 352.8C197.3 352.8 198.5 355.6 201 355.6C205.5 355.6 206 344.2 208 344.2C213 344.2 209.3 362.5 215 377.5C216.3 381 220 378 222 381.2C227 389.2 225.1 390.7 229 399.8C232.1 407 232.3 407 236.1 413.9C239.3 420 238.4 425.9 243.1 425.9C245.4 425.9 246.8 425.9 250.1 425.9C253.9 425.9 254.1 424.4 257.1 421.6C261.1 417.8 260.3 412.8 264.1 412.8C267.3 412.8 267.1 419.4 271.1 419.4C274.1 419.4 275 418.3 278.1 418.3C282 418.3 281.9 420.7 285.1 423.7C288.9 427.2 288.1 428.3 292.1 431.4C295.1 433.7 297.4 434.6 299.2 434.6C304.4 434.6 303 423.8 306.2 412.8C310 399.8 308.6 399.3 313.2 386.7C315.6 380.2 315.6 374.7 320.2 374.7C322.6 374.7 324.5 375.8 327.2 375.8C331.5 375.8 329.9 368.8 334.2 367.1C336.9 366 337.7 366 341.2 366C344.7 366 346.2 366 348.2 366.6C353.2 368.1 350.3 382.3 355.3 382.3C357.3 382.3 358.8 381.2 362.3 381.2C365.8 381.2 366 382.3 369.3 382.3C373.1 382.3 375.6 381.9 376.3 378C382.6 341.3 376.9 301 383.3 301C383.9 301 388.6 301 390.3 301.7C395.6 303.9 392.1 322.4 397.3 322.4C399.1 322.4 402.8 320.7 404.4 320.7C409.8 320.7 405.8 345.9 411.4 345.9C412.8 345.9 415.7 345.9 418.4 345.9C422.7 345.9 423 342 425.4 337C430 327.5 427.1 319 432.4 316.9C434.1 316.2 436.5 316.2 439.4 316.2C443.5 316.2 442.4 322.9 446.4 322.9C449.4 322.9 452.1 322.9 453.4 321.1C459.1 313.8 455.6 306.3 460.5 292.5C462.7 286.2 465.4 287.3 467.5 281C472.4 266.1 470 265.2 474.5 250C477 241.2 479.4 241.9 481.5 233C486.4 212.4 483.5 211.5 488.5 191C490.5 183 493 183.9 495.5 176C500 161.7 497.8 146.6 502.5 146.6C504.8 146.6 505 159.7 509.5 159.7C512 159.7 513.7 155.8 516.5 155.8C520.7 155.8 521.1 159.7 523.6 164.8C528.2 174.5 527.1 175 530.6 185.3C534.1 195.8 533.6 206.4 537.6 206.4C540.6 206.4 539.8 191.1 544.6 191.1C546.8 191.1 547.9 194.7 551.6 194.7C554.9 194.7 555.2 194.7 558.6 194.7C562.2 194.7 563.5 196.2 565.6 196.2C570.6 196.2 568.1 180.9 572.6 180.9C575.1 180.9 576.9 183.2 579.7 186.7C583.9 191.9 583.5 192.4 586.7 198.4C590.5 205.5 589.2 213 593.7 213C596.2 213 599 211.2 600.7 207.2C606 194.4 603.1 179.4 607.7 179.4C610.1 179.4 611 186.1 614.7 192.6C618 198.3 617.5 203.7 621.7 203.7C624.5 203.7 625.9 198.4 628.8 198.4C633 198.4 632.1 204.1 635.8 209.5C639.1 214.5 639.8 214 642.8 219.2C646.8 226.2 647.5 226.1 649.8 233.8C654.5 249.6 651.7 266.3 656.8 266.3C658.7 266.3 661 261.4 663.8 255.7C668 247.3 666.9 246.8 670.8 238.2C673.9 231.4 673.7 225 677.8 225C680.7 225 680.8 232.3 684.9 232.3C687.9 232.3 688.4 231 691.9 229.4C695.4 227.7 695.3 225.8 698.9 225.8C702.3 225.8 703.4 226.1 705.9 228.7C710.4 233.4 708.5 240.4 712.9 240.4C715.5 240.4 716.3 236 719.9 236C723.3 236 724.6 238.9 726.9 238.9C731.6 238.9 729.7 231.4 733.9 225C736.7 220.8 736.8 217.7 740.9 217.7C743.8 217.7 744.6 217.7 748 218.5C751.6 219.4 751.4 221.8 755 221.8C758.4 221.8 759.5 221.8 762 219.9C766.5 216.5 765.9 209 769 209C772.9 209 774.1 215.8 776 223.6C781.1 243.8 778.8 244.5 783 265C785.8 278.2 784.9 279 790 291.1C791.9 295.7 794.3 298.4 797 298.4C801.3 298.4 800.7 284 804.1 284C807.7 284 806.7 299.4 811.1 299.4C813.7 299.4 816.2 291.8 818.1 291.8C823.2 291.8 820.1 318.7 825.1 318.7C827.1 318.7 829.4 309.9 832.1 309.9C836.4 309.9 834.2 326.4 839.1 326.4C841.2 326.4 843.3 325.6 846.1 323.1C850.3 319.5 848.9 314.3 853.1 314.3C855.9 314.3 856.9 316.5 860.2 316.5C864 316.5 864.1 314.4 867.2 311.4C871.1 307.5 870.1 306.2 874.2 302.6C877.1 300 878.1 299 881.2 299C885.1 299 884.8 306 888.2 306C891.8 306 891.6 298.2 895.2 298.2C898.6 298.2 898.5 301.7 902.2 304.8C905.6 307.6 905.5 307.8 909.2 309.9C912.5 311.8 915.8 309.9 916.3 312.8C922.8 354.2 917.7 421 923.3 421C924.7 421 925.9 394 930.3 394C932.9 394 933.7 409 937.3 409C940.7 409 940.3 401.7 944.3 395C947.3 390.2 947.4 386 951.3 386C954.5 386 954.6 392 958.3 392C961.6 392 964.4 391.7 965.4 388C971.4 364.2 967.9 337 972.4 337C974.9 337 975.1 366 979.4 366C982.1 366 982.3 356.7 986.4 348C989.3 341.7 990.3 342.2 993.4 336C997.3 328.2 997.1 328.1 1000.4 320C1004.1 311.1 1004.3 311.1 1007.4 302C1011.3 290.6 1011.1 290.6 1014.4 279C1018.1 266.1 1016.6 253 1021.4 253C1023.6 253 1028.5 263 1028.5 263M1049.5 260.4C1049.5 260.4 1052.6 249.6 1056.5 239.2C1059.6 231 1058.8 223.1 1063.5 223.1C1065.8 223.1 1067.4 224.9 1070.5 227.5C1074.4 230.7 1073.6 231.7 1077.5 234.8C1080.6 237.2 1082.4 235.4 1084.6 238.5C1089.4 245.3 1087.4 254.5 1091.6 254.5C1094.4 254.5 1096.4 244.7 1098.6 244.7C1103.4 244.7 1100.5 258.2 1105.6 269.9C1107.5 274.3 1108.5 276.9 1112.6 276.9C1115.6 276.9 1116.1 275.8 1119.6 275.4C1123.1 275 1123.7 275 1126.6 275C1130.7 275 1131.9 281.8 1133.7 281.8C1138.9 281.8 1135.1 254 1140.7 254C1142.1 254 1144.1 255.9 1147.7 257.2C1151.1 258.4 1153.4 257.2 1154.7 259.1C1160.4 267.2 1156.4 275.2 1161.7 289.3C1163.4 293.8 1166 296.2 1168.7 296.2C1173.1 296.2 1172.3 281.8 1175.7 281.8C1179.3 281.8 1180.2 289.2 1182.7 297.2C1187.2 311.5 1185.2 326.4 1189.8 326.4C1192.2 326.4 1193.4 312 1196.8 312C1200.5 312 1200.8 328.4 1203.8 328.4C1207.8 328.4 1207.9 316.9 1210.8 305.1C1214.9 288.5 1212 273.5 1217.8 271.6C1219 271.2 1222.5 271.2 1224.8 271.2C1229.5 271.2 1229.3 283.4 1231.8 283.4C1236.4 283.4 1233.4 267.3 1238.8 258.7C1240.4 256.2 1242.7 256.2 1245.8 256.2C1249.7 256.2 1250.8 257.9 1252.9 261.7C1257.8 271 1255.8 272.3 1259.9 282.4C1262.8 289.6 1263.3 296.2 1266.9 296.2C1270.3 296.2 1273.9 283.4 1273.9 283.4" fill="none" stroke="#f0b90b" stroke-width="2" stroke-linejoin="round"/>
</svg>
</body>
</html>
